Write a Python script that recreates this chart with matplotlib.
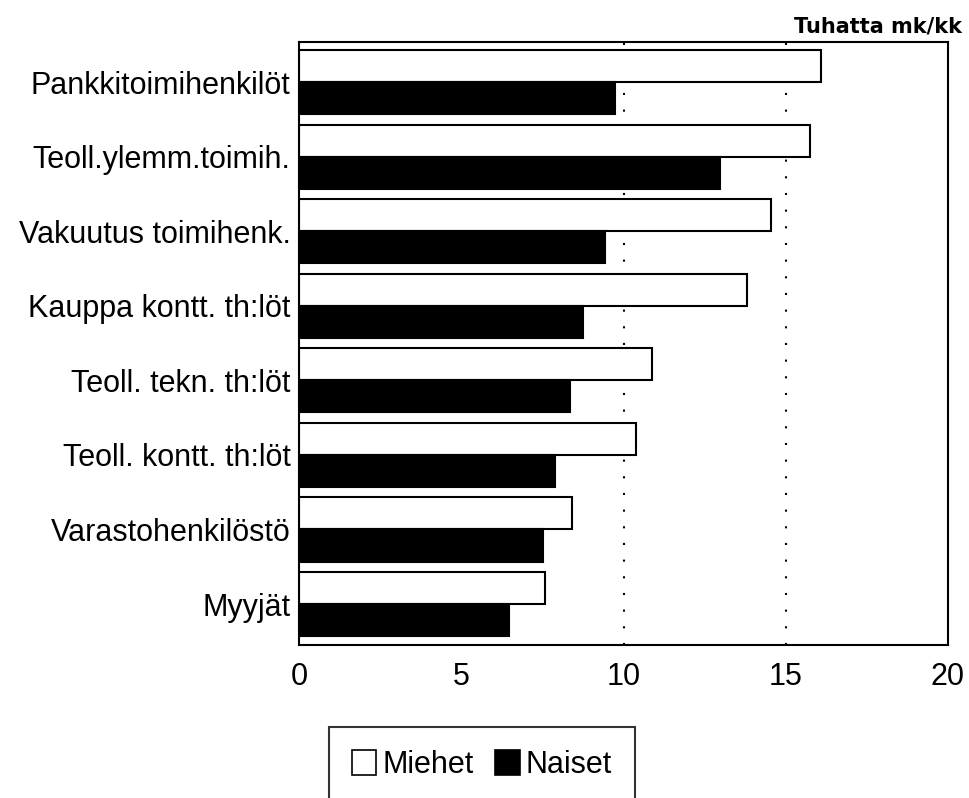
import numpy as np
import matplotlib
matplotlib.use("Agg")
import matplotlib.pyplot as plt
from matplotlib.patches import Patch

plt.rcParams['font.family'] = ['Liberation Sans', 'DejaVu Sans']

# data (thousand mk / month)
categories = ['Pankkitoimihenkilöt', 'Teoll.ylemm.toimih.', 'Vakuutus toimihenk.',
              'Kauppa kontt. th:löt', 'Teoll. tekn. th:löt', 'Teoll. kontt. th:löt',
              'Varastohenkilöstö', 'Myyjät']
miehet = [16.1, 15.75, 14.55, 13.8, 10.88, 10.39, 8.41, 7.58]
naiset = [9.74, 12.97, 9.43, 8.75, 8.35, 7.89, 7.52, 6.47]

fig = plt.figure(figsize=(9.7, 7.98), dpi=100)
ax = fig.add_axes([299/970, 1-645/798, (948-299)/970, (645-42)/798])

n = len(categories)
y = np.arange(n)[::-1]
h = 0.43

for xv in [10, 15]:
    ax.axvline(xv, color='black', linestyle=(0, (1, 7)), linewidth=1.5, zorder=0)

ax.barh(y + h/2, miehet, height=h, color='white', edgecolor='black', linewidth=1.5, zorder=2)
ax.barh(y - h/2, naiset, height=h, color='black', edgecolor='black', linewidth=1.5, zorder=2)

ax.set_xlim(0, 20)
ax.set_ylim(-0.55, n - 1 + 0.54)
ax.set_xticks([0, 5, 10, 15, 20])
ax.set_yticks(y)
ax.set_yticklabels(categories)
ax.tick_params(axis='both', length=0, labelsize=22)
ax.tick_params(axis='y', pad=6)
ax.tick_params(axis='x', pad=12)
for s in ax.spines.values():
    s.set_linewidth(1.5)

fig.text(962/970, 1-27/798, 'Tuhatta mk/kk', ha='right', va='center', fontsize=15,
         family='DejaVu Sans', fontweight='bold')

handles = [Patch(facecolor='white', edgecolor='black', linewidth=1.2, label='Miehet'),
           Patch(facecolor='black', edgecolor='black', linewidth=1.2, label='Naiset')]
leg = fig.legend(handles=handles, loc='upper left', bbox_to_anchor=(329/970, 1-727/798),
                 ncol=2, fontsize=22, frameon=True, fancybox=False, borderpad=0.75,
                 borderaxespad=0, handlelength=0.8, handleheight=0.85,
                 handletextpad=0.2, columnspacing=0.7)
leg.get_frame().set_edgecolor('black')
leg.get_frame().set_linewidth(1.5)

fig.savefig('out.png', dpi=100)
